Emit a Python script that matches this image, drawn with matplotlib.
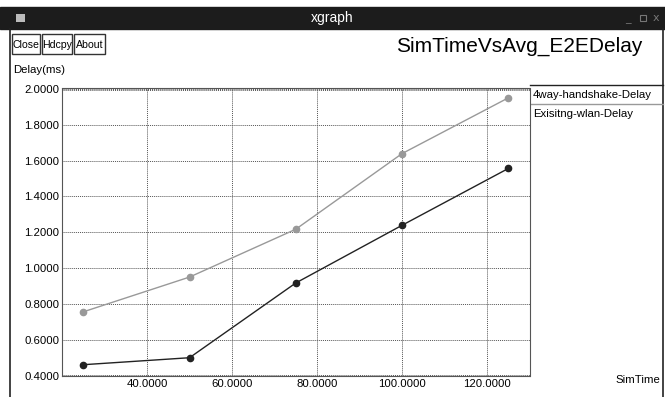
import matplotlib
matplotlib.use("Agg")
import matplotlib.pyplot as plt
from matplotlib.patches import Rectangle, Polygon

# ---- data ----
sim_time = [25, 50, 75, 100, 125]
handshake_delay = [0.461, 0.500, 0.917, 1.239, 1.556]
existing_delay = [0.756, 0.950, 1.217, 1.639, 1.950]
series_names = ["4way-handshake-Delay", "Exisitng-wlan-Delay"]
x_ticks = [40, 60, 80, 100, 120]
y_ticks = [0.4, 0.6, 0.8, 1.0, 1.2, 1.4, 1.6, 1.8, 2.0]
chart_title = "SimTimeVsAvg_E2EDelay"
x_label = "SimTime"
y_label = "Delay(ms)"
buttons = ["Close", "Hdcpy", "About"]

W, H = 665, 397
SANS = ['Liberation Sans', 'DejaVu Sans']
FS = 8.2

fig = plt.figure(figsize=(W / 100, H / 100), dpi=100)
bg = fig.add_axes([0, 0, 1, 1])
bg.set_xlim(0, W)
bg.set_ylim(H, 0)
bg.axis('off')

# window title bar
bg.add_patch(Rectangle((0, 7), W, 22, color='#1c1c1c', zorder=1))
bg.add_patch(Rectangle((16, 14), 9, 8, facecolor='#bbbbbb', edgecolor='none', zorder=2))
bg.text(W / 2, 18, "xgraph", color='white', ha='center', va='center',
        fontsize=10, family=SANS, zorder=3)
bg.text(628, 19, "_", color='#777777', ha='center', va='center', fontsize=8, zorder=3)
bg.add_patch(Rectangle((640, 15), 6, 6, facecolor='none', edgecolor='#777777', lw=0.8, zorder=3))
bg.text(656, 18, "x", color='#777777', ha='center', va='center', fontsize=8, zorder=3)

# window borders
bg.plot([10, 10], [29, H], color='#222222', lw=1.2)
bg.plot([663, 663], [29, H], color='#222222', lw=1.2)

# buttons
bx = 12
widths = [28, 30, 31]
for name, w in zip(buttons, widths):
    bg.add_patch(Rectangle((bx, 34), w, 20, facecolor='white', edgecolor='#333333', lw=1.0))
    bg.text(bx + w / 2, 44.5, name, ha='center', va='center', fontsize=7.6, family=SANS)
    bx += w + 2

# title
bg.text(519, 46, chart_title, ha='center', va='center', fontsize=15, family=SANS)
bg.text(13, 70, y_label, ha='left', va='center', fontsize=FS, family=SANS)
bg.text(660, 380, x_label, ha='right', va='center', fontsize=FS, family=SANS)

# plot area
L, R, T, B = 62, 530, 88, 376
ax = fig.add_axes([L / W, (H - B) / H, (R - L) / W, (B - T) / H])
ax.set_xlim(20, 130.1)
ax.set_ylim(0.398, 2.005)
ax.set_xticks(x_ticks)
ax.set_yticks(y_ticks)
ax.set_xticklabels([f"{v:.4f}" for v in x_ticks], fontsize=FS, family=SANS)
ax.set_yticklabels([f"{v:.4f}" for v in y_ticks], fontsize=FS, family=SANS)
ax.tick_params(length=0, pad=2)
ax.grid(True, color='#555555', linestyle=(0, (1, 1)), linewidth=0.7)
for s in ax.spines.values():
    s.set_color('#555555')
    s.set_linestyle((0, (1, 1)))
    s.set_linewidth(0.8)
ax.axhline(1.995, color='#555555', linestyle=(0, (1, 1)), lw=0.7)
ax.axhline(0.405, color='#555555', linestyle=(0, (1, 1)), lw=0.7)

colors = ['#222222', '#999999']
ax.plot(sim_time, handshake_delay, color=colors[0], lw=1.0, marker='o', ms=4.5,
        label=series_names[0], zorder=4)
ax.plot(sim_time, existing_delay, color=colors[1], lw=1.0, marker='o', ms=4.5,
        label=series_names[1], zorder=4)
ax.set_facecolor('white')

# legend (xgraph style: line above each label)
for i, (name, c) in enumerate(zip(series_names, colors)):
    y0 = 85 + i * 19
    bg.plot([530, 663], [y0, y0], color=c, lw=1.0)
    bg.text(533, y0 + 10, name, ha='left', va='center', fontsize=FS, family=SANS)

# mouse cursor
bg.add_patch(Polygon([[513, 205], [513, 222], [517, 218], [520, 224], [522, 223],
                      [519, 217], [524, 217]], closed=True, color='#111111', zorder=5))

fig.savefig("out.png", dpi=100)
